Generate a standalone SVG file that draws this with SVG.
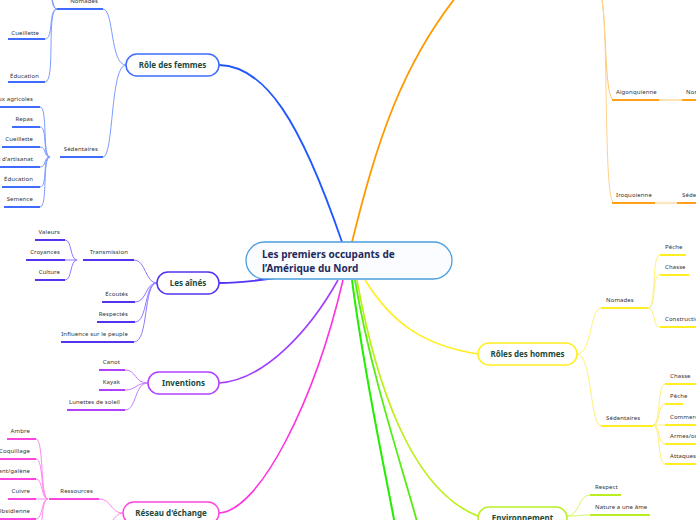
<svg xmlns="http://www.w3.org/2000/svg" width="696" height="520" viewBox="0 0 696 520">
<style>
.leaf{font-family:"Noto Sans","Open Sans",sans-serif;font-size:6px;fill:#333;letter-spacing:0.1px}
.end{text-anchor:end}
.node{font-family:"Noto Sans","Open Sans",sans-serif;font-size:8px;font-weight:bold;fill:#1b4a3c;text-anchor:middle}
.main{font-family:"Noto Sans","Open Sans",sans-serif;font-size:10px;font-weight:bold;fill:#1f2a5c}
.c{fill:none}
.box{fill:#fff;stroke-width:1.5}
.ul{fill:none;stroke-width:2}
.sub{fill:none;stroke-width:1}
</style>
<rect width="696" height="520" fill="#fff"/>
<g id="connectors">
  <!-- main branches -->
  <path class="c" d="M219,65 C265,66 300,120 342,242" stroke="#2157ff" stroke-width="1.8"/>
  <path class="c" d="M352,242 C375,150 400,60 470,-20" stroke="#ff9900" stroke-width="1.8"/>
  <path class="c" d="M219,283 C240,283 255,281 275,278" stroke="#5533f5" stroke-width="1.8"/>
  <path class="c" d="M219,383 C265,380 310,330 338,280" stroke="#a040ff" stroke-width="1.6"/>
  <path class="c" d="M219,513 C260,511 315,400 343,280" stroke="#ff33dd" stroke-width="1.6"/>
  <path class="c" d="M365,280 C390,320 420,345 478,354" stroke="#ffee22" stroke-width="1.6"/>
  <path class="c" d="M357,280 C375,380 410,490 478,516" stroke="#bbee11" stroke-width="1.6"/>
  <path class="c" d="M352,280 C365,380 385,470 395,525" stroke="#22ee00" stroke-width="2"/>
  <path class="c" d="M355,280 C370,370 400,460 418,525" stroke="#55ee11" stroke-width="1.8"/>

  <!-- Rôle des femmes -->
  <path class="sub" d="M126,65 C110,65 114,9 103,9" stroke="#7d9cff"/>
  <path class="sub" d="M126,65 C110,65 114,157 103,157" stroke="#7d9cff"/>
  <path class="ul" d="M57,9 H103 M60,157 H103" stroke="#3f6bff"/>
  <path class="sub" d="M57,9 C50,9 54,-8 46,-14 M57,9 C50,9 52,-28 44,-34 M57,9 C48,9 54,39 45,39 M57,9 C46,9 56,82 45,82" stroke="#7d9cff"/>
  <path class="ul" d="M8,39 H45 M8,82 H45" stroke="#3f6bff"/>
  <path class="sub" d="M50,157 C42,157 48,107 40,107 M50,157 C42,157 48,127 40,127 M50,157 C43,157 47,147 40,147 M50,157 C43,157 47,167 40,167 M50,157 C42,157 48,187 40,187 M50,157 C42,157 48,207 40,207" stroke="#7d9cff"/>
  <path class="ul" d="M0,107 H40 M12,127 H40 M2,147 H40 M0,167 H40 M2,187 H40 M4,207 H40" stroke="#3f6bff"/>

  <!-- Les aînés -->
  <path class="sub" d="M157,283 C145,283 146,260 134,260 M157,283 C145,283 147,302 135,302 M157,283 C144,283 148,322 135,322 M157,283 C143,283 149,342 134,342" stroke="#8c7cff"/>
  <path class="ul" d="M83,260 H134 M102,302 H135 M97,322 H135 M61,342 H134" stroke="#5533ee"/>
  <path class="sub" d="M77,260 C70,260 72,240 65,240 M77,260 H65 M77,260 C70,260 72,280 65,280" stroke="#8c7cff"/>
  <path class="ul" d="M35,240 H65 M26,260 H65 M35,280 H65" stroke="#5533ee"/>

  <!-- Inventions -->
  <path class="sub" d="M148,383 C134,383 137,370 125,370 M148,383 C136,383 136,390 125,390 M148,383 C134,383 137,410 125,410" stroke="#c77dff"/>
  <path class="ul" d="M99,370 H125 M99,390 H125 M67,410 H125" stroke="#b040ff"/>

  <!-- Réseau d'échange -->
  <path class="sub" d="M123,513 C110,513 112,499 99,499 M123,513 C112,513 112,530 100,535" stroke="#ff88ee"/>
  <path class="ul" d="M49,499 H99" stroke="#ff44dd"/>
  <path class="sub" d="M48,499 C40,499 44,439 36,439 M48,499 C40,499 44,459 36,459 M48,499 C41,499 43,479 36,479 M48,499 H36 M48,499 C41,499 43,519 36,519 M48,499 C40,499 44,539 36,539" stroke="#ff88ee"/>
  <path class="ul" d="M7,439 H36 M0,459 H36 M0,479 H36 M8,499 H36 M0,519 H36" stroke="#ff44dd"/>

  <!-- Orange (top right) -->
  <path class="sub" d="M601,-5 C607,20 604,100 614,100" stroke="#ffc46b" stroke-width="1.2"/>
  <path class="sub" d="M601,-5 C609,20 603,203 614,203" stroke="#ffd08a" stroke-width="1.2"/>
  <path class="ul" d="M612,100 H659 M682,100 H700 M612,203 H655 M677,203 H700" stroke="#ff9f1a"/>
  <path class="sub" d="M659,100 H682" stroke="#ffc46b"/>
  <path class="c" d="M655,203 H677" stroke="#fde6c4" stroke-width="2.5"/>

  <!-- Rôles des hommes -->
  <path class="sub" d="M577,354 C592,354 590,308 601,308 M577,354 C592,354 590,426 601,426" stroke="#fff176"/>
  <path class="ul" d="M601,308 H648 M601,426 H653" stroke="#ffee22"/>
  <path class="sub" d="M648,308 C657,308 651,255 660,255 M648,308 C657,308 651,275 660,275 M648,308 C656,308 652,327 660,327" stroke="#fff176"/>
  <path class="ul" d="M660,255 H686 M660,275 H689 M660,327 H700" stroke="#ffee22"/>
  <path class="sub" d="M653,425 C661,425 657,384 665,384 M653,425 C661,425 657,404 665,404 M653,425 H665 M653,425 C661,425 657,444 665,444 M653,425 C661,425 657,464 665,464" stroke="#fff176"/>
  <path class="ul" d="M665,384 H700 M665,404 H683 M665,425 H700 M665,444 H700 M665,464 H700" stroke="#ffee22"/>

  <!-- Environnement -->
  <path class="sub" d="M567,516 C580,516 578,495 590,495 M567,516 C578,516 580,515 590,515" stroke="#d4f76b"/>
  <path class="ul" d="M590,495 H621 M590,515 H650" stroke="#bbee22"/>
</g>

<g id="central">
  <rect x="246" y="242" width="206" height="37" rx="18.5" fill="#fafcff" stroke="#4a9ee0" stroke-width="1.3"/>
  <text class="main" x="262" y="258">Les premiers occupants de</text>
  <text class="main" x="262" y="271.5">l’Amérique du Nord</text>
</g>

<g id="role-femmes">
  <rect class="box" x="126" y="54" width="93" height="22" rx="11" stroke="#3f6bff"/>
  <text class="node" x="172.5" y="68">Rôle des femmes</text>
</g>
<g id="femmes-nomades"><text class="leaf end" x="98" y="3">Nomades</text></g>
<g id="femmes-cueillette"><text class="leaf end" x="39" y="35">Cueillette</text></g>
<g id="femmes-education"><text class="leaf end" x="39" y="78">Éducation</text></g>
<g id="femmes-sedentaires"><text class="leaf end" x="98" y="151">Sédentaires</text></g>
<g id="fs-travaux"><text class="leaf end" x="33" y="101">Travaux agricoles</text></g>
<g id="fs-repas"><text class="leaf end" x="33" y="121">Repas</text></g>
<g id="fs-cueillette"><text class="leaf end" x="33" y="141">Cueillette</text></g>
<g id="fs-artisanat"><text class="leaf end" x="33" y="161">Objets d'artisanat</text></g>
<g id="fs-education"><text class="leaf end" x="33" y="181">Éducation</text></g>
<g id="fs-semence"><text class="leaf end" x="33" y="201">Semence</text></g>

<g id="aines">
  <rect class="box" x="157" y="272" width="62" height="22" rx="11" stroke="#5533ee"/>
  <text class="node" x="188" y="286">Les aînés</text>
</g>
<g id="transmission"><text class="leaf end" x="128" y="254">Transmission</text></g>
<g id="valeurs"><text class="leaf end" x="60" y="234">Valeurs</text></g>
<g id="croyances"><text class="leaf end" x="60" y="254">Croyances</text></g>
<g id="culture"><text class="leaf end" x="60" y="274">Culture</text></g>
<g id="ecoutes"><text class="leaf end" x="128" y="296">Écoutés</text></g>
<g id="respectes"><text class="leaf end" x="128" y="316">Respectés</text></g>
<g id="influence"><text class="leaf end" x="128" y="336">Influence sur le peuple</text></g>

<g id="inventions">
  <rect class="box" x="148" y="372" width="71" height="22" rx="11" stroke="#b040ff"/>
  <text class="node" x="183.5" y="386">Inventions</text>
</g>
<g id="canot"><text class="leaf end" x="120" y="364">Canot</text></g>
<g id="kayak"><text class="leaf end" x="120" y="384">Kayak</text></g>
<g id="lunettes"><text class="leaf end" x="120" y="404">Lunettes de soleil</text></g>

<g id="reseau">
  <rect class="box" x="123" y="502" width="96" height="22" rx="11" stroke="#ff44dd"/>
  <text class="node" x="171" y="516">Réseau d'échange</text>
</g>
<g id="ressources"><text class="leaf end" x="93" y="493">Ressources</text></g>
<g id="ambre"><text class="leaf end" x="30" y="433">Ambre</text></g>
<g id="coquillage"><text class="leaf end" x="30" y="453">Coquillage</text></g>
<g id="argent"><text class="leaf end" x="30" y="473">Argent/galène</text></g>
<g id="cuivre"><text class="leaf end" x="30" y="493">Cuivre</text></g>
<g id="obsidienne"><text class="leaf end" x="30" y="513">Obsidienne</text></g>

<g id="algonquienne"><text class="leaf" x="616" y="94">Algonquienne</text></g>
<g id="algo-nomades"><text class="leaf" x="686" y="94">Nomades</text></g>
<g id="iroquoienne"><text class="leaf" x="616" y="197">Iroquoienne</text></g>
<g id="iro-sedentaires"><text class="leaf" x="682" y="197">Sédentaires</text></g>

<g id="roles-hommes">
  <rect class="box" x="478" y="343" width="99" height="22" rx="11" stroke="#ffee22"/>
  <text class="node" x="527.5" y="357">Rôles des hommes</text>
</g>
<g id="hommes-nomades"><text class="leaf" x="606" y="302">Nomades</text></g>
<g id="hn-peche"><text class="leaf" x="665" y="249">Pêche</text></g>
<g id="hn-chasse"><text class="leaf" x="665" y="269">Chasse</text></g>
<g id="hn-construction"><text class="leaf" x="665" y="321">Construction</text></g>
<g id="hommes-sedentaires"><text class="leaf" x="606" y="420">Sédentaires</text></g>
<g id="hs-chasse"><text class="leaf" x="670" y="378">Chasse</text></g>
<g id="hs-peche"><text class="leaf" x="670" y="398">Pêche</text></g>
<g id="hs-commerce"><text class="leaf" x="670" y="419">Commerce</text></g>
<g id="hs-armes"><text class="leaf" x="670" y="438">Armes/outils</text></g>
<g id="hs-attaques"><text class="leaf" x="670" y="458">Attaques</text></g>

<g id="environnement">
  <rect class="box" x="478" y="507" width="89" height="22" rx="11" stroke="#bbee22"/>
  <text class="node" x="522.5" y="521">Environnement</text>
</g>
<g id="respect"><text class="leaf" x="595" y="489">Respect</text></g>
<g id="nature"><text class="leaf" x="595" y="509">Nature a une âme</text></g>
</svg>
